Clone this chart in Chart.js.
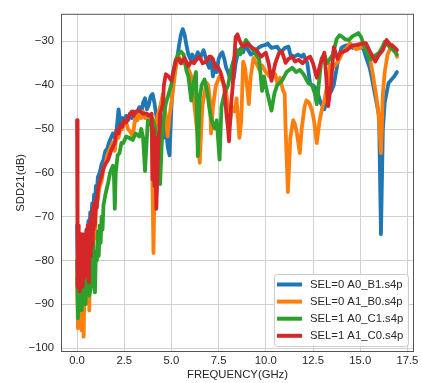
<!DOCTYPE html>
<html>
<head>
<meta charset="utf-8">
<script src="https://cdn.jsdelivr.net/npm/chart.js@4.4.0/dist/chart.umd.min.js"></script>
<style>
  html, body { margin: 0; padding: 0; background: #fff; }
  canvas { display: block; }
</style>
</head>
<body>
<canvas id="sddChart" width="422" height="383"></canvas>
<script>
// tick labels
const freqTicks = [0, 2.5, 5, 7.5, 10, 12.5, 15, 17.5];
const dbTicks = [-100, -90, -80, -70, -60, -50, -40, -30];

const seriesNames = ['SEL=0 A0_B1.s4p', 'SEL=0 A1_B0.s4p', 'SEL=1 A0_C1.s4p', 'SEL=1 A1_C0.s4p'];
const seriesColors = ['#1f77b4', '#ff7f0e', '#2ca02c', '#d62728'];

// [frequency GHz, dB]
const blueData = [
    [0,-72],[0.05,-84],[0.1,-78],[0.15,-88],[0.2,-80],[0.25,-86],[0.3,-77],[0.35,-83],[0.4,-75],[0.45,-80],
    [0.5,-73],[0.55,-77],[0.6,-71],[0.65,-74],[0.7,-69],[0.75,-72],[0.8,-67],[0.85,-70],[0.9,-65],[0.95,-67],
    [1.0,-63],[1.05,-65],[1.1,-61],[1.2,-60],[1.3,-58],[1.4,-57],[1.5,-55],[1.6,-54.5],[1.7,-53],[1.8,-52],
    [1.9,-51],[2.0,-52],[2.1,-50],[2.2,-45.5],[2.3,-49],[2.4,-47.5],[2.5,-48],[2.6,-47],[2.7,-48],[2.8,-46.5],
    [2.9,-47.5],[3.0,-46],[3.1,-47],[3.2,-46],[3.3,-45],[3.4,-46.5],[3.5,-44],[3.6,-43],[3.7,-45.5],[3.8,-44.5],
    [3.9,-42.5],[4.0,-42],[4.1,-44],[4.2,-47],[4.3,-49],[4.4,-46],[4.5,-50],[4.6,-52],[4.7,-48],[4.8,-54],
    [4.9,-56],[5.0,-45],[5.1,-38],[5.2,-36.5],[5.3,-34],[5.4,-31],[5.5,-28.5],[5.6,-27.2],[5.7,-28.5],[5.8,-31],
    [5.9,-33],[6.0,-34],[6.1,-33],[6.2,-34.5],[6.3,-33.5],[6.4,-32.5],[6.5,-34],[6.6,-33],[6.7,-32],[6.8,-33.5],
    [6.9,-35],[7.0,-36],[7.1,-34],[7.2,-38],[7.3,-35],[7.4,-37],[7.5,-34],[7.6,-33],[7.7,-32.5],[7.8,-34],
    [7.9,-36],[8.0,-37],[8.1,-38.5],[8.2,-36],[8.3,-38.5],[8.4,-35],[8.5,-33],[8.6,-32],[8.7,-31.5],[8.8,-32.5],
    [8.9,-31],[9.0,-31.5],[9.2,-33],[9.4,-32.5],[9.6,-31.5],[9.8,-31],[10.0,-30.8],[10.1,-30.5],[10.3,-31.5],[10.6,-31.2],
    [10.8,-32.5],[11.0,-31.5],[11.2,-31.2],[11.3,-33],[11.5,-33.5],[11.7,-33],[11.9,-33.5],[12.0,-33],[12.2,-35],[12.35,-39.8],
    [12.5,-40],[12.7,-41],[12.9,-44],[13.1,-45.5],[13.3,-42],[13.45,-41.5],[13.6,-40],[13.8,-35],[14.0,-31.5],[14.2,-31],
    [14.4,-30.8],[14.6,-31.5],[14.8,-31],[15.0,-30.8],[15.2,-32],[15.3,-33.5],[15.5,-36],[15.6,-38],[15.8,-42.5],[16.0,-47],
    [16.1,-74],[16.2,-50],[16.3,-44],[16.5,-39.5],[16.7,-38.5],[16.8,-38],[16.95,-37]
];

const orangeData = [
    [0,-84],[0.05,-95.5],[0.1,-80],[0.15,-93],[0.2,-85],[0.25,-96],[0.3,-88],[0.35,-97.4],[0.4,-84],[0.45,-90],
    [0.5,-80],[0.55,-88],[0.6,-78],[0.65,-91.4],[0.7,-76],[0.75,-84],[0.8,-72],[0.85,-78],[0.9,-70],[0.95,-75],
    [1.0,-68],[1.1,-66],[1.2,-63],[1.3,-62],[1.4,-59],[1.5,-58],[1.6,-56],[1.7,-55],[1.8,-54],[1.9,-53],
    [2.0,-55],[2.1,-51],[2.2,-52],[2.3,-49.5],[2.4,-50],[2.5,-48.5],[2.6,-48.4],[2.7,-50],[2.8,-50.5],[2.95,-51.7],
    [3.1,-47],[3.2,-48],[3.3,-46.5],[3.4,-47.5],[3.5,-46],[3.6,-47.5],[3.7,-46.5],[3.8,-47],[3.95,-48.8],[4.05,-78.3],
    [4.15,-50],[4.25,-47.2],[4.4,-45],[4.55,-42],[4.65,-45],[4.8,-51.7],[4.9,-47],[5.0,-44],[5.1,-40.5],[5.2,-37],
    [5.35,-33],[5.45,-34],[5.6,-35],[5.7,-34],[5.8,-35.5],[5.95,-36.8],[6.05,-38],[6.15,-42],[6.3,-48],[6.4,-52],
    [6.5,-57.7],[6.6,-48],[6.65,-44.3],[6.75,-42],[6.85,-39.4],[6.95,-40],[7.05,-43.8],[7.1,-51],[7.2,-45],[7.35,-40.2],
    [7.55,-38],[7.7,-39],[7.9,-41.6],[8.1,-49],[8.2,-45],[8.35,-46],[8.45,-43],[8.6,-52],[8.7,-48],[8.8,-34.6],
    [8.9,-36],[9.0,-40],[9.1,-44.3],[9.2,-38],[9.35,-33.8],[9.5,-35],[9.65,-36.4],[9.8,-35.5],[10.0,-37],[10.2,-38],
    [10.35,-37],[10.5,-37.5],[10.6,-39.4],[10.75,-38.3],[10.9,-41],[11.0,-42],[11.05,-50],[11.17,-64.4],[11.3,-52],[11.45,-48],
    [11.55,-49],[11.65,-51],[11.8,-55.5],[11.9,-50],[12.05,-45],[12.15,-43.5],[12.3,-44],[12.45,-45.8],[12.55,-48],[12.7,-53.2],
    [12.85,-48],[13.0,-45],[13.1,-43.5],[13.25,-40],[13.4,-35.3],[13.55,-36],[13.75,-35],[13.9,-34],[14.1,-32.3],[14.3,-31.5],
    [14.45,-30.4],[14.6,-31],[14.8,-31.8],[15.0,-31.5],[15.15,-31],[15.3,-31.5],[15.5,-33.5],[15.65,-37],[15.8,-41],[15.9,-44],
    [16.0,-48],[16.1,-55.5],[16.2,-42],[16.3,-37],[16.45,-33],[16.6,-31.5],[16.7,-30.8],[16.8,-31.5],[16.95,-33.5]
];

const greenData = [
    [0,-80],[0.05,-93.2],[0.1,-83],[0.15,-90],[0.2,-84],[0.25,-91.4],[0.3,-80],[0.35,-88],[0.4,-82],[0.45,-90],
    [0.5,-80],[0.55,-86],[0.6,-78],[0.65,-88],[0.7,-86.8],[0.75,-80],[0.8,-84],[0.85,-76],[0.9,-86],[0.95,-87.3],
    [1.0,-78],[1.05,-80],[1.1,-73.4],[1.15,-79],[1.2,-72],[1.25,-76],[1.3,-70],[1.35,-73],[1.4,-67.4],[1.5,-65],
    [1.65,-62.2],[1.75,-60],[1.9,-58.4],[1.95,-60],[2.0,-68.2],[2.05,-60],[2.15,-56],[2.25,-55.5],[2.35,-53.2],[2.45,-53.2],
    [2.6,-51.7],[2.75,-52],[2.95,-52.5],[3.1,-51],[3.3,-51.7],[3.4,-50],[3.5,-52],[3.6,-59.6],[3.7,-52],[3.75,-48],
    [3.9,-49],[4.0,-47.6],[4.15,-50],[4.3,-55],[4.4,-62.6],[4.5,-52],[4.6,-47],[4.7,-44.3],[4.85,-42],[5.0,-39.8],
    [5.1,-37],[5.2,-34.6],[5.35,-33],[5.5,-32.3],[5.65,-33],[5.8,-36.8],[5.9,-38],[6.05,-43.5],[6.15,-40],[6.3,-37],
    [6.4,-56.2],[6.5,-43],[6.6,-40],[6.75,-38.7],[6.9,-41.6],[7.0,-45],[7.1,-47.6],[7.3,-49.9],[7.4,-48],[7.55,-57],
    [7.65,-45],[7.8,-42],[8.0,-40],[8.2,-35.7],[8.35,-33.5],[8.5,-32],[8.65,-33],[8.8,-31],[8.95,-29.7],[9.2,-31.2],
    [9.4,-32.5],[9.65,-34.2],[9.8,-41.3],[9.9,-38],[10.0,-40.2],[10.15,-43],[10.3,-45.8],[10.45,-42],[10.6,-40],[10.85,-39],
    [11.1,-37],[11.4,-36],[11.6,-37],[11.8,-36.5],[12.0,-37.5],[12.25,-39.5],[12.45,-40],[12.6,-42],[12.7,-44.3],[12.8,-40],
    [12.95,-34],[13.1,-33],[13.25,-35],[13.4,-34],[13.55,-33],[13.75,-29.5],[13.9,-28.6],[14.0,-28.8],[14.2,-29.5],[14.4,-29.7],
    [14.6,-28.8],[14.75,-28.5],[14.9,-28.1],[15.05,-29],[15.2,-31],[15.35,-32.5],[15.5,-34.2],[15.7,-33.5],[16.0,-32.6],[16.15,-31.5],
    [16.3,-30.1],[16.5,-31],[16.7,-31.8],[16.85,-32.5],[16.95,-33]
];

const redData = [
    [0,-48],[0.02,-78],[0.04,-86],[0.06,-72],[0.08,-84],[0.1,-75],[0.13,-87],[0.15,-77],[0.18,-85.3],[0.2,-74],
    [0.23,-83],[0.25,-76],[0.28,-86],[0.3,-74],[0.33,-82],[0.35,-77],[0.38,-84],[0.4,-75],[0.43,-83.5],[0.45,-74],
    [0.48,-81],[0.5,-73],[0.53,-80],[0.55,-72],[0.58,-82],[0.6,-73],[0.63,-85],[0.65,-72],[0.68,-79],[0.7,-71.2],
    [0.73,-79],[0.75,-70],[0.78,-77],[0.8,-69],[0.83,-76],[0.85,-68],[0.88,-73],[0.9,-67],[0.95,-72],[1.0,-66],
    [1.05,-68],[1.1,-64],[1.2,-62],[1.3,-60.7],[1.4,-59],[1.5,-58],[1.65,-57],[1.8,-55],[1.9,-54],[2.0,-53.2],
    [2.1,-50.3],[2.2,-51],[2.3,-49],[2.4,-49.5],[2.5,-48],[2.6,-48.5],[2.75,-47],[2.9,-46],[3.0,-47],[3.1,-46],
    [3.3,-45.8],[3.5,-46.5],[3.7,-46.5],[3.8,-47],[3.95,-46.5],[4.0,-61.5],[4.05,-50],[4.1,-63],[4.15,-52],[4.2,-68.2],
    [4.3,-55],[4.4,-46.5],[4.55,-44.3],[4.6,-40],[4.7,-37.5],[4.85,-38],[5.0,-39],[5.1,-37],[5.25,-34.2],[5.4,-34],
    [5.5,-35],[5.7,-33.8],[5.9,-35.7],[6.05,-34.6],[6.2,-35],[6.35,-34],[6.5,-33.5],[6.65,-35],[6.85,-34.6],[7.0,-33.5],
    [7.1,-33.5],[7.2,-34],[7.3,-36],[7.45,-35.7],[7.6,-37],[7.8,-40.2],[7.9,-46],[8.0,-50],[8.05,-52.8],[8.15,-45],
    [8.25,-40],[8.4,-29],[8.5,-28.4],[8.6,-29.7],[8.75,-31],[8.85,-31.2],[9.0,-30.4],[9.15,-31],[9.3,-31.5],[9.5,-32],
    [9.75,-33.5],[10.0,-32.6],[10.15,-35],[10.3,-39],[10.35,-38],[10.5,-35],[10.7,-32.6],[10.85,-32.3],[11.05,-34.9],[11.2,-34],
    [11.4,-33.5],[11.55,-34.6],[11.75,-34.2],[11.95,-35],[12.15,-34],[12.35,-33.5],[12.5,-35],[12.7,-38.3],[12.9,-35],[13.1,-32.6],
    [13.2,-38],[13.3,-44.8],[13.45,-40],[13.6,-31.3],[13.8,-34],[13.95,-32.6],[14.3,-32],[14.55,-31],[14.8,-30.8],[15.1,-30.5],
    [15.3,-30.4],[15.55,-32.6],[15.8,-34.6],[16.0,-33],[16.2,-32],[16.4,-29.7],[16.6,-30.8],[16.8,-31.3],[16.95,-32]
];

const seriesData = [blueData, orangeData, greenData, redData];

const fontFamily = '"Liberation Sans", Arial, sans-serif';
const textColor = '#262626';

// draws the frame on all four sides and the legend box in the lower right
const framePlugin = {
    id: 'frameAndLegend',
    afterDraw(chart) {
        const ctx = chart.ctx;
        const a = chart.chartArea;
        ctx.save();
        ctx.strokeStyle = '#555';
        ctx.lineWidth = 1;
        ctx.strokeRect(a.left + 0.5, a.top + 0.5, a.right - a.left - 1, a.bottom - a.top - 1);

        // legend
        const bx = 274, by = 274, bw = 134, bh = 72;
        ctx.beginPath();
        ctx.roundRect(bx + 0.5, by + 0.5, bw, bh, 3);
        ctx.fillStyle = 'rgba(255,255,255,0.85)';
        ctx.fill();
        ctx.strokeStyle = '#cccccc';
        ctx.stroke();

        ctx.font = '11.3px ' + fontFamily;
        ctx.textBaseline = 'middle';
        ctx.textAlign = 'left';
        seriesNames.forEach((name, i) => {
            const y = 284.5 + i * 17.1;
            ctx.beginPath();
            ctx.moveTo(277, y);
            ctx.lineTo(302, y);
            ctx.strokeStyle = seriesColors[i];
            ctx.lineWidth = 4;
            ctx.stroke();
            ctx.fillStyle = textColor;
            ctx.fillText(name, 310, y);
        });
        ctx.restore();
    }
};

const ctx = document.getElementById('sddChart').getContext('2d');
new Chart(ctx, {
    type: 'line',
    data: {
        datasets: seriesData.map((d, i) => ({
            label: seriesNames[i],
            data: d.map(p => ({x: p[0], y: p[1]})),
            borderColor: seriesColors[i],
            backgroundColor: seriesColors[i],
            borderWidth: 3.8,
            pointRadius: 0,
            tension: 0,
            fill: false,
            borderJoinStyle: 'round',
            borderCapStyle: 'round',
            order: 4 - i   // later series drawn on top, like matplotlib
        }))
    },
    options: {
        responsive: false,
        animation: false,
        devicePixelRatio: 1,
        layout: {padding: {top: 8, right: 8, left: 0, bottom: 0}},
        plugins: {
            legend: {display: false},
            tooltip: {enabled: false}
        },
        scales: {
            x: {
                type: 'linear',
                min: -0.85,
                max: 17.85,
                afterFit: s => { s.height = 31; },
                afterBuildTicks: s => { s.ticks = freqTicks.map(v => ({value: v})); },
                ticks: {
                    callback: v => v.toFixed(1),
                    color: textColor,
                    font: {family: fontFamily, size: 11.3},
                    padding: 2,
                    maxRotation: 0
                },
                grid: {color: '#d0d0d0', lineWidth: 1, drawTicks: false},
                border: {display: false},
                title: {
                    display: true,
                    text: 'FREQUENCY(GHz)',
                    color: textColor,
                    font: {family: fontFamily, size: 11.3},
                    padding: {top: 0, bottom: 1}
                }
            },
            y: {
                type: 'linear',
                min: -100.9,
                max: -23.7,
                afterFit: s => { s.width = 61; },
                afterBuildTicks: s => { s.ticks = dbTicks.map(v => ({value: v})); },
                ticks: {
                    callback: v => (v < 0 ? '\u2212' + Math.abs(v) : String(v)),
                    color: textColor,
                    font: {family: fontFamily, size: 11.3},
                    padding: 7
                },
                grid: {color: '#d0d0d0', lineWidth: 1, drawTicks: false},
                border: {display: false},
                title: {
                    display: true,
                    text: 'SDD21(dB)',
                    color: textColor,
                    font: {family: fontFamily, size: 11.3},
                    padding: {top: 14, bottom: 0}
                }
            }
        }
    },
    plugins: [framePlugin]
});
</script>
</body>
</html>
